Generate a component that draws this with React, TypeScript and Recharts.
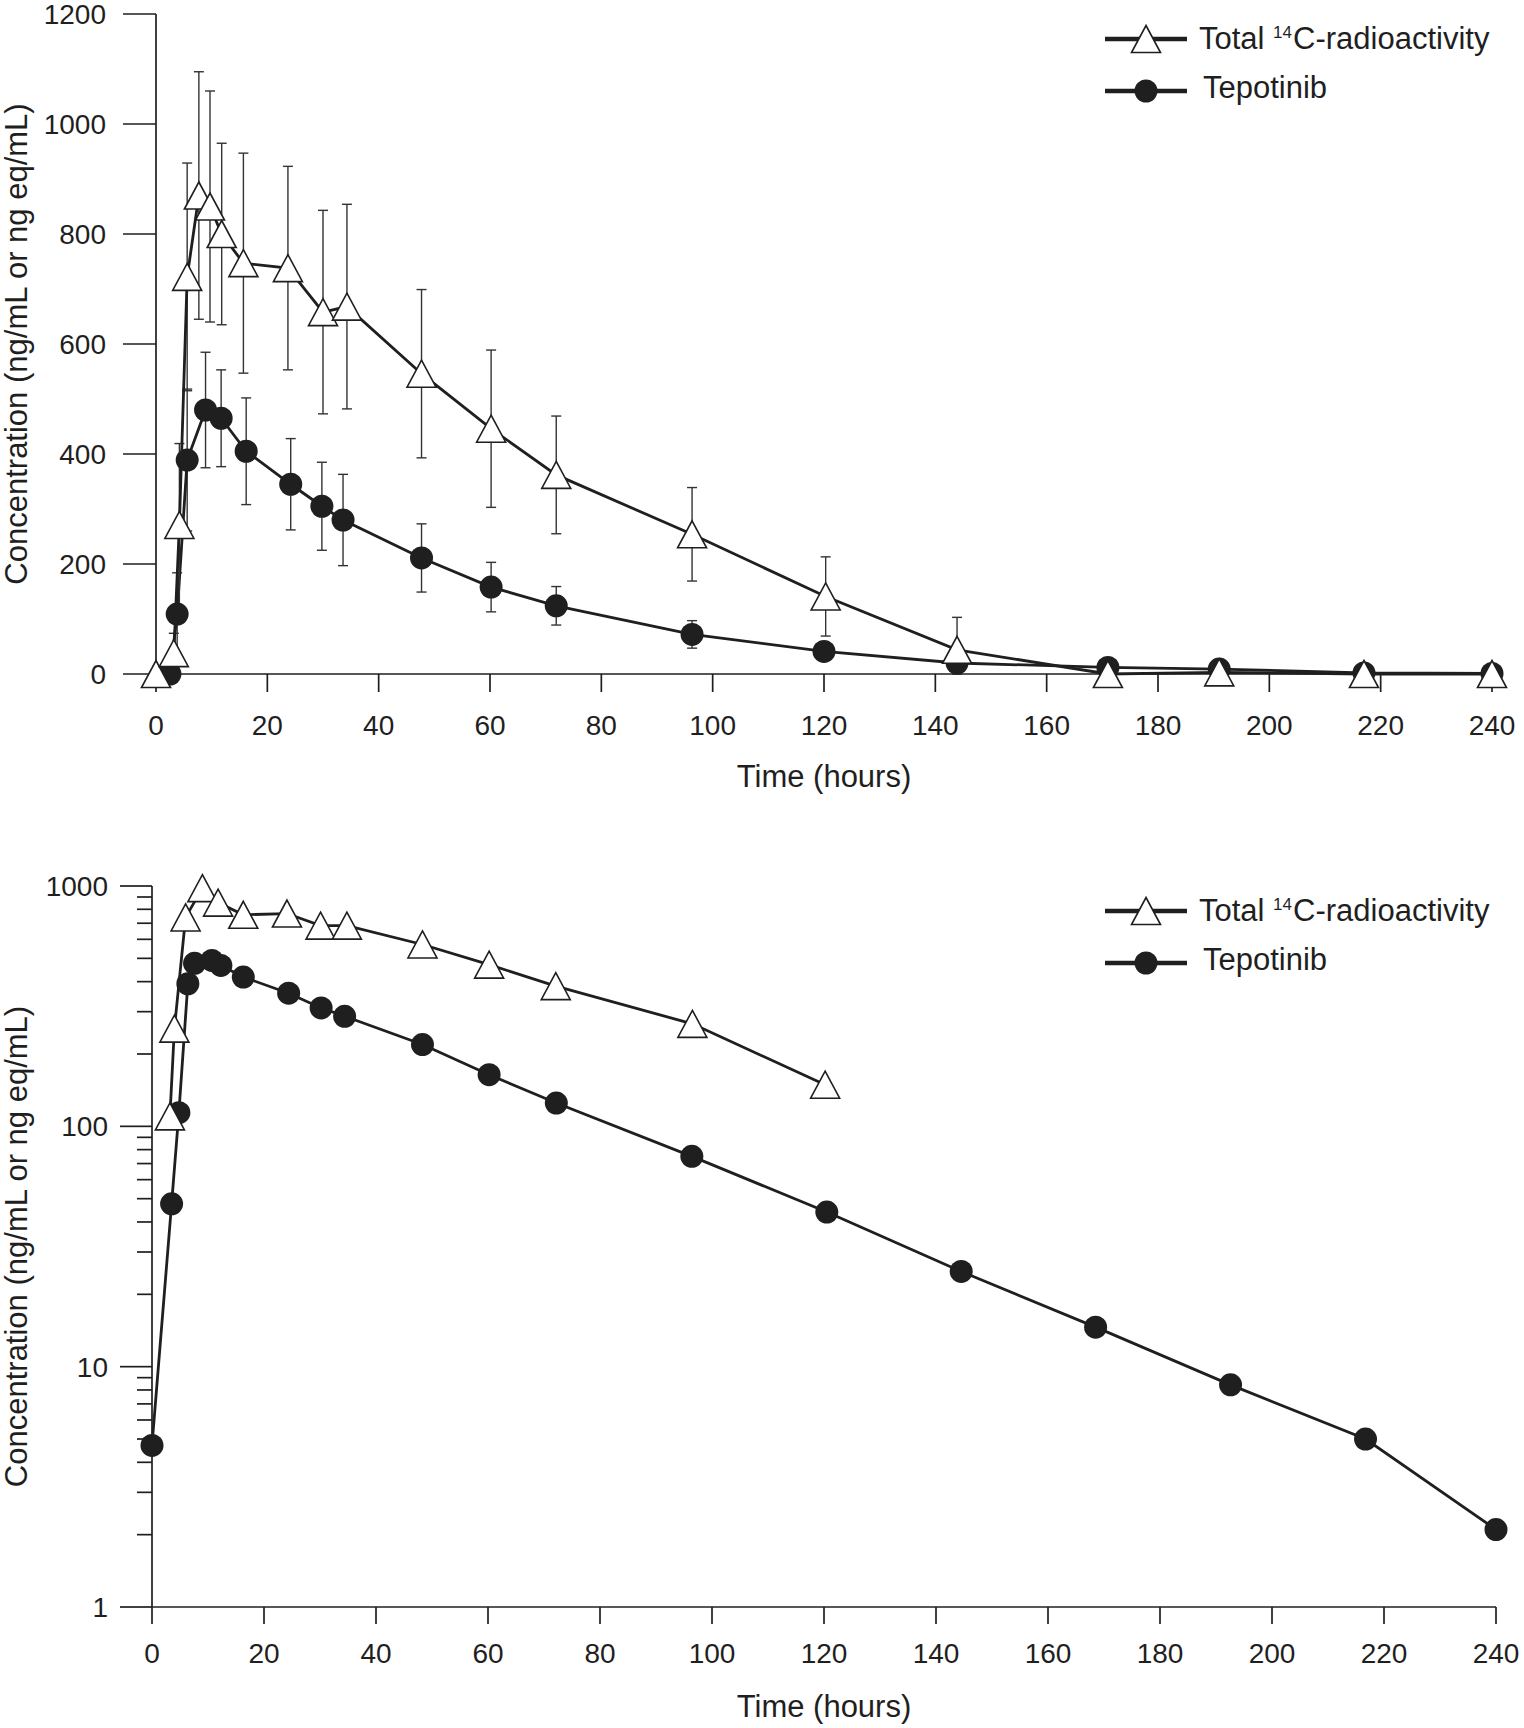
import { LineChart, Line, XAxis, YAxis, ErrorBar, Legend } from 'recharts'

const FONT = '"Liberation Sans", Arial, sans-serif'
const INK = '#1f1f1f'

// upper panel: linear scale, mean ± SD
const linTimeRadio = [0, 3.2, 4.2, 5.6, 7.7, 9.7, 11.8, 15.7, 23.7, 30, 34.3, 47.7, 60.2, 71.9, 96.3, 120.3, 143.9, 171, 191, 217, 240]
const linRadio = [0, 38, 271, 722, 870, 850, 800, 747, 738, 658, 668, 546, 446, 362, 254, 141, 44, 0, 3, 0, 0]
const linRadioSd = [0, 36, 148, 207, 225, 210, 165, 200, 185, 185, 186, 153, 143, 107, 85, 72, 59, 0, 0, 0, 0]

const linTimeTepo = [2.5, 3.8, 5.6, 8.9, 11.7, 16.2, 24.2, 29.8, 33.6, 47.7, 60.2, 71.9, 96.3, 120, 143.9, 171, 191, 217, 240]
const linTepo = [0, 109, 389, 480, 465, 405, 345, 305, 280, 211, 158, 124, 72, 41, 20, 12, 9, 2, 1]
const linTepoSd = [0, 75, 129, 105, 88, 97, 83, 80, 83, 62, 45, 35, 25, 0, 0, 0, 0, 0, 0]

// lower panel: log scale, means
const logTimeRadio = [3.2, 4.0, 6.0, 9.0, 11.8, 16.3, 24.1, 30.1, 34.8, 48.3, 60.2, 72.1, 96.5, 120.2]
const logRadio = [110, 255, 740, 980, 853, 759, 768, 684, 684, 571, 471, 383, 267, 149]

const logTimeTepo = [0, 3.5, 4.8, 6.4, 7.6, 10.7, 12.3, 16.3, 24.4, 30.2, 34.4, 48.3, 60.2, 72.2, 96.4, 120.5, 144.5, 168.5, 192.6, 216.7, 240]
const logTepo = [4.7, 47.6, 114, 392, 477, 490, 467, 418, 358, 311, 287, 219, 164, 125, 75, 44, 24.9, 14.6, 8.4, 5.0, 2.1]

const timeTicks = [0, 20, 40, 60, 80, 100, 120, 140, 160, 180, 200, 220, 240]
const linTicks = [0, 200, 400, 600, 800, 1000, 1200]
const logMajor = [1, 10, 100, 1000]
const logTicks = [1, 2, 3, 4, 5, 6, 7, 8, 9, 10, 20, 30, 40, 50, 60, 70, 80, 90, 100, 200, 300, 400, 500, 600, 700, 800, 900, 1000]

const radioLabel = 'Total'
const tepoLabel = 'Tepotinib'
const yTitle = 'Concentration (ng/mL or ng eq/mL)'
const xTitle = 'Time (hours)'

const toRows = (t: number[], v: number[], sd?: number[]) =>
  t.map((x, i) => ({ t: x, v: v[i], sd: sd ? [Math.min(sd[i], v[i]), sd[i]] : undefined }))

const Triangle = (p: any) => {
  const { cx, cy, index } = p
  if (cx == null || cy == null) return <g key={`tri-${index}`} />
  return (
    <path
      key={`tri-${index}`}
      d={`M${cx},${cy - 13.5} L${cx + 14.5},${cy + 13.5} L${cx - 14.5},${cy + 13.5} Z`}
      fill="#fff"
      stroke={INK}
      strokeWidth={1.6}
    />
  )
}

const Dot = (p: any) => {
  const { cx, cy, index } = p
  if (cx == null || cy == null) return <g key={`dot-${index}`} />
  return <circle key={`dot-${index}`} cx={cx} cy={cy} r={11.5} fill={INK} />
}

const LogTick = (p: any) => {
  const { x, y, payload } = p
  const axisX = x + 12 + 32
  const major = logMajor.includes(payload.value)
  return (
    <g>
      <line x1={axisX - (major ? 32 : 15)} x2={axisX} y1={y} y2={y} stroke={INK} strokeWidth={1.7} />
      {major && (
        <text x={x} y={y} dy="0.36em" textAnchor="end" fill={INK} fontSize={28} fontFamily={FONT}>
          {payload.value}
        </text>
      )}
    </g>
  )
}

function LegendBox() {
  const row = { display: 'flex', alignItems: 'center', height: 52 }
  return (
    <div style={{ fontFamily: FONT, fontSize: 31, color: INK, lineHeight: '34px' }}>
      <div style={row}>
        <svg width={84} height={34} style={{ flex: 'none' }}>
          <line x1={0} x2={82} y1={17} y2={17} stroke={INK} strokeWidth={4.5} />
          <path d="M41,3.5 L55.5,30.5 L26.5,30.5 Z" fill="#fff" stroke={INK} strokeWidth={1.6} />
        </svg>
        <span style={{ marginLeft: 10, marginTop: -6, whiteSpace: 'nowrap' }}>
          {radioLabel} <span style={{ fontSize: 17, verticalAlign: 'super', marginRight: 1 }}>14</span>C-radioactivity
        </span>
      </div>
      <div style={row}>
        <svg width={84} height={34} style={{ flex: 'none' }}>
          <line x1={0} x2={82} y1={17} y2={17} stroke={INK} strokeWidth={4.5} />
          <circle cx={41} cy={17} r={11.5} fill={INK} />
        </svg>
        <span style={{ marginLeft: 14, marginTop: -6 }}>{tepoLabel}</span>
      </div>
    </div>
  )
}

const tickStyle = { fill: INK, fontSize: 28, fontFamily: FONT }
const titleStyle = { fill: INK, fontSize: 31, fontFamily: FONT }
const axisStroke = { stroke: INK, strokeWidth: 1.7 }

function LinearPanel() {
  return (
    <LineChart width={1524} height={800} margin={{ top: 14, right: 32, left: 0, bottom: 0 }}>
      <XAxis
        type="number"
        dataKey="t"
        domain={[0, 240]}
        ticks={timeTicks}
        interval={0}
        tickSize={18}
        tickMargin={23}
        height={126}
        axisLine={axisStroke}
        tickLine={axisStroke}
        tick={tickStyle}
        label={{ value: xTitle, position: 'insideBottom', offset: 13, style: titleStyle }}
      />
      <YAxis
        type="number"
        domain={[0, 1200]}
        ticks={linTicks}
        interval={0}
        tickSize={33}
        tickMargin={17}
        width={156}
        axisLine={axisStroke}
        tickLine={axisStroke}
        tick={tickStyle}
        label={{ value: yTitle, angle: -90, position: 'insideLeft', offset: 16, style: { ...titleStyle, textAnchor: 'middle' } }}
      />
      <Legend
        layout="vertical"
        align="center"
        verticalAlign="middle"
        wrapperStyle={{ left: 1105, top: 13, right: 'auto', bottom: 'auto', width: 419 }}
        content={LegendBox}
      />
      <Line
        data={toRows(linTimeTepo, linTepo, linTepoSd)}
        dataKey="v"
        type="linear"
        stroke={INK}
        strokeWidth={2.8}
        dot={Dot}
        activeDot={false}
        isAnimationActive={false}
      >
        <ErrorBar dataKey="sd" width={5} stroke="#333" strokeWidth={1.4} direction="y" />
      </Line>
      <Line
        data={toRows(linTimeRadio, linRadio, linRadioSd)}
        dataKey="v"
        type="linear"
        stroke={INK}
        strokeWidth={2.8}
        dot={Triangle}
        activeDot={false}
        isAnimationActive={false}
      >
        <ErrorBar dataKey="sd" width={5} stroke="#333" strokeWidth={1.4} direction="y" />
      </Line>
    </LineChart>
  )
}

function LogPanel() {
  return (
    <LineChart width={1524} height={928} margin={{ top: 86, right: 28, left: 0, bottom: 0 }}>
      <XAxis
        type="number"
        dataKey="t"
        domain={[0, 240]}
        ticks={timeTicks}
        interval={0}
        tickSize={17}
        tickMargin={19}
        height={121}
        axisLine={axisStroke}
        tickLine={axisStroke}
        tick={tickStyle}
        label={{ value: xTitle, position: 'insideBottom', offset: 11, style: titleStyle }}
      />
      <YAxis
        type="number"
        scale="log"
        domain={[1, 1000]}
        ticks={logTicks}
        interval={0}
        tickSize={32}
        tickMargin={12}
        width={152}
        axisLine={axisStroke}
        tickLine={false}
        tick={LogTick}
        label={{ value: yTitle, angle: -90, position: 'insideLeft', offset: 16, style: { ...titleStyle, textAnchor: 'middle' } }}
      />
      <Legend
        layout="vertical"
        align="center"
        verticalAlign="middle"
        wrapperStyle={{ left: 1105, top: 85, right: 'auto', bottom: 'auto', width: 419 }}
        content={LegendBox}
      />
      <Line
        data={toRows(logTimeTepo, logTepo)}
        dataKey="v"
        type="linear"
        stroke={INK}
        strokeWidth={2.8}
        dot={Dot}
        activeDot={false}
        isAnimationActive={false}
      />
      <Line
        data={toRows(logTimeRadio, logRadio)}
        dataKey="v"
        type="linear"
        stroke={INK}
        strokeWidth={2.8}
        dot={Triangle}
        activeDot={false}
        isAnimationActive={false}
      />
    </LineChart>
  )
}

export default function App() {
  return (
    <div style={{ position: 'absolute', left: 0, top: 0, width: 1524, height: 1728, background: '#fff' }}>
      <div style={{ position: 'absolute', left: 0, top: 0 }}>
        <LinearPanel />
      </div>
      <div style={{ position: 'absolute', left: 0, top: 800 }}>
        <LogPanel />
      </div>
    </div>
  )
}
